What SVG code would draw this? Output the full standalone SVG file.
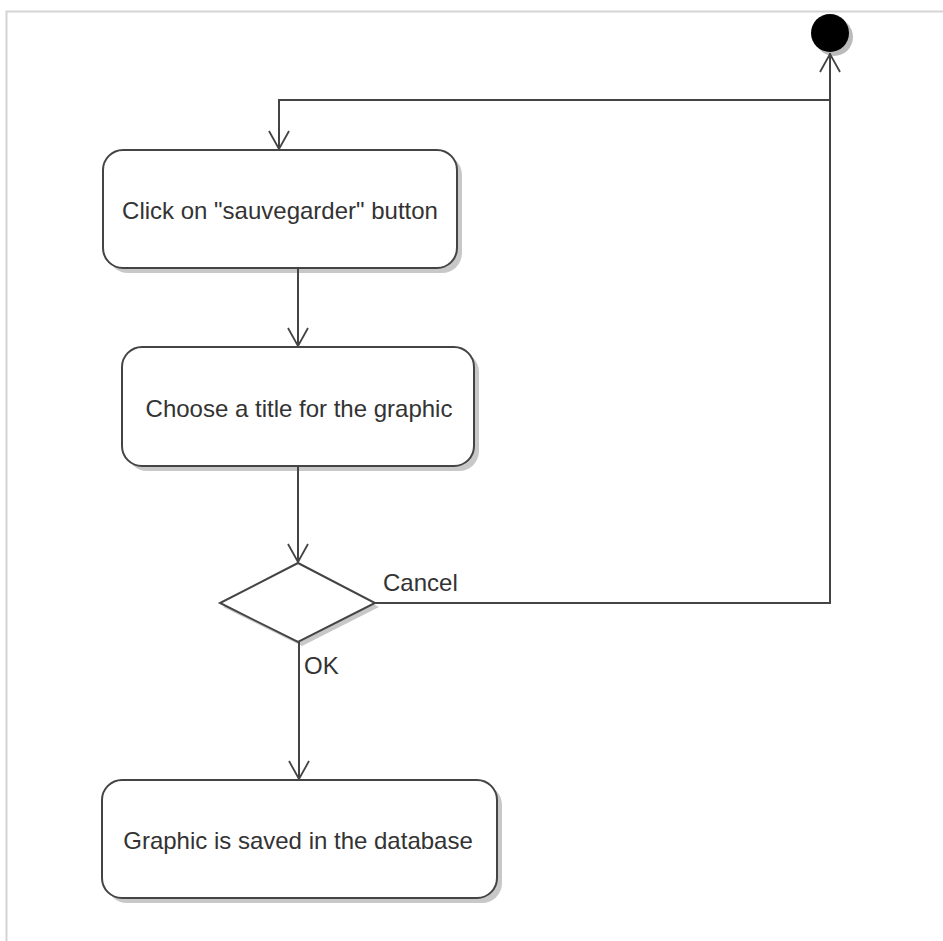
<svg xmlns="http://www.w3.org/2000/svg" width="943" height="941" viewBox="0 0 943 941">
<defs>
<style>
.box{fill:#fff;stroke:#444;stroke-width:2}
.shadow{fill:#c8c8c8}
.lbl{font-family:"Liberation Sans",Arial,sans-serif;font-size:24px;fill:#333}
.edge{fill:none;stroke:#444;stroke-width:2}
</style>
<marker id="arr" viewBox="0 0 20 24" refX="19" refY="12" markerWidth="20" markerHeight="24" markerUnits="userSpaceOnUse" orient="auto">
<path d="M1 2 L19 12 L1 22" fill="none" stroke="#444" stroke-width="1.8"/>
</marker>
</defs>
<rect x="0" y="0" width="943" height="941" fill="#fff"/>
<path d="M6.5 941 V11.5 H943" fill="none" stroke="#d4d4d4" stroke-width="2"/>
<g id="start">
<circle cx="834" cy="37" r="19" fill="#bbb"/>
<circle cx="830" cy="33" r="19" fill="#000"/>
</g>
<g id="n1">
<rect class="shadow" x="108" y="155" width="354" height="118" rx="20"/>
<rect class="box" x="103" y="150" width="354" height="118" rx="20"/>
<text class="lbl" x="280" y="219" text-anchor="middle">Click on "sauvegarder" button</text>
</g>
<g id="n2">
<rect class="shadow" x="127" y="352" width="352" height="119" rx="20"/>
<rect class="box" x="122" y="347" width="352" height="119" rx="20"/>
<text class="lbl" x="299" y="417" text-anchor="middle">Choose a title for the graphic</text>
</g>
<g id="decision">
<polygon points="302,567 379,607 302,646 223,607" fill="#c8c8c8"/>
<polygon points="298,563 375,603 298,642 220,603" class="box"/>
</g>
<g id="n3">
<rect class="shadow" x="107" y="785" width="395" height="118" rx="20"/>
<rect class="box" x="102" y="780" width="395" height="118" rx="20"/>
<text class="lbl" x="298" y="849" text-anchor="middle">Graphic is saved in the database</text>
</g>
<g id="connectors">
<path class="edge" d="M830 53 V100 H279 V149" marker-end="url(#arr)"/>
<path class="edge" d="M375 603 H830 V54" marker-end="url(#arr)"/>
<path class="edge" d="M298 268 V346" marker-end="url(#arr)"/>
<path class="edge" d="M298 466 V562" marker-end="url(#arr)"/>
<path class="edge" d="M299 642 V779" marker-end="url(#arr)"/>
<text class="lbl" x="383" y="591">Cancel</text>
<text class="lbl" x="304" y="674">OK</text>
</g>
</svg>
